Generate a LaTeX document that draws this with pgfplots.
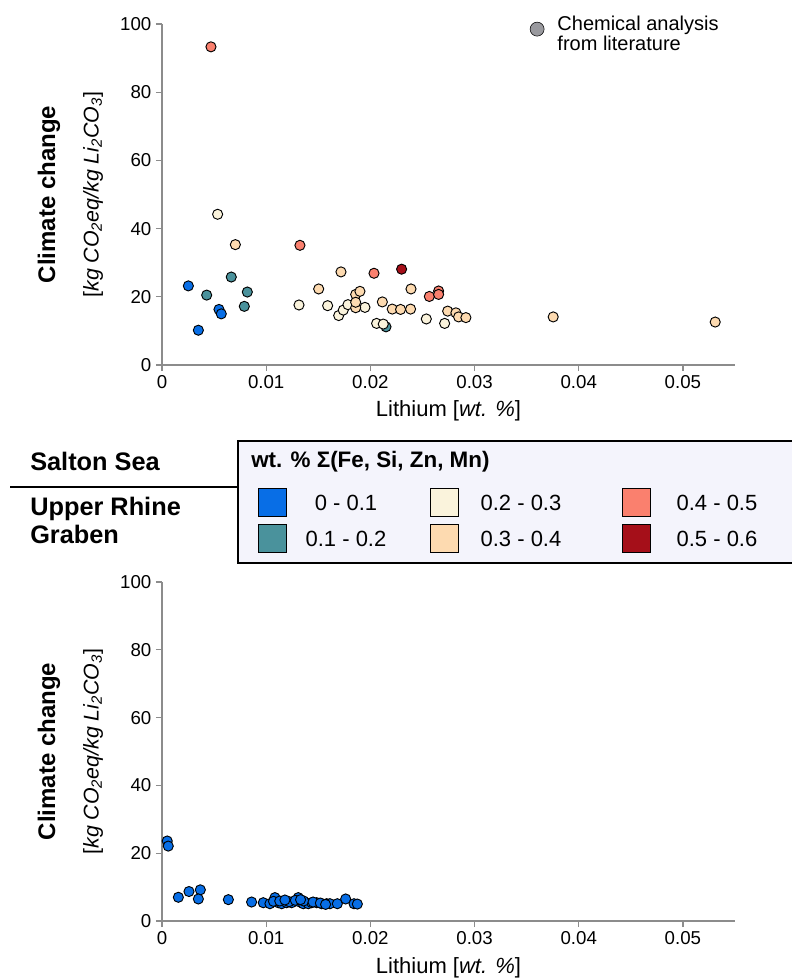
\documentclass[border=0pt]{standalone}
\usepackage{fontspec}
\setmainfont{Liberation Sans}
\usepackage{pgfplots}
\pgfplotsset{compat=1.18}
\definecolor{cA}{RGB}{8,110,230}
\definecolor{cB}{RGB}{74,146,156}
\definecolor{cC}{RGB}{250,243,220}
\definecolor{cD}{RGB}{253,218,176}
\definecolor{cE}{RGB}{250,128,110}
\definecolor{cF}{RGB}{165,15,25}
\definecolor{legbg}{RGB}{244,244,252}
\definecolor{axgray}{RGB}{140,140,140}
\definecolor{dotgray}{RGB}{153,153,158}
\pgfplotsset{
  pt/.style={only marks, mark=*, mark size=3.8pt, draw=black, fill=#1, line width=0.7pt},
  myax/.style={scale only axis, width=429.75pt,
    xmin=0, xmax=0.055, ymin=0, ymax=100,
    axis x line=bottom, axis y line=left,
    axis line style={-, draw=axgray, line width=1pt},
    tick align=outside, major tick length=4.5pt,
    tick style={draw=axgray, line width=1pt},
    xtick={0,0.01,0.02,0.03,0.04,0.05}, ytick={0,20,40,60,80,100},
    scaled x ticks=false,
    xticklabel style={/pgf/number format/fixed, /pgf/number format/precision=2},
    tick label style={font=\fontsize{14}{16}\selectfont},
    /pgf/number format/assume math mode=true,
    clip=false},
}
\newcommand\ylab{%
  \node[xshift=-84.75pt, rotate=90, font=\bfseries\fontsize{18}{20}\selectfont] at (rel axis cs:0,0.5) {Climate change};
  \node[xshift=-51.75pt, rotate=90, font=\fontsize{16}{18}\selectfont] at (rel axis cs:0,0.5) {[\textit{kg CO\textsubscript{2}eq/kg Li\textsubscript{2}CO\textsubscript{3}}]};
}
\begin{document}
\begin{tikzpicture}
\begin{axis}[myax, at={(121.5pt,-273.75pt)}, anchor=south west, height=255.75pt,
  legend style={draw=none, fill=none, at={(rel axis cs:0.642,0.985)}, anchor=west,
    font=\fontsize{15}{13.5}\selectfont, inner sep=0pt},
  legend cell align=left]
\addlegendimage{only marks, mark=*, mark size=5.25pt, draw=none, fill=dotgray}
\addlegendentry{\begin{tabular}{@{\hspace{8pt}}l@{}}Chemical analysis\\from literature\end{tabular}}
\addplot[pt=cA] coordinates {(0.00253,23.2) (0.00349,10.2) (0.00547,16.3) (0.00569,15.0)};
\addplot[pt=cB] coordinates {(0.00429,20.5) (0.00665,25.8) (0.00819,21.4) (0.0079,17.2) (0.0215,11.2)};
\addplot[pt=cC] coordinates {(0.00534,44.2) (0.01315,17.6) (0.0159,17.4) (0.01696,14.5) (0.0174,16.1) (0.01785,17.7) (0.01948,16.9) (0.0206,12.2) (0.02124,12.0) (0.02537,13.5) (0.02713,12.2)};
\addplot[pt=cD] coordinates {(0.00704,35.3) (0.01504,22.3) (0.01718,27.3) (0.01859,20.7) (0.019,21.6) (0.01859,16.8) (0.01859,18.4) (0.02115,18.5) (0.0221,16.4) (0.0229,16.3) (0.02386,16.4) (0.0239,22.3) (0.02742,15.8) (0.02821,15.3) (0.02847,14.1) (0.02917,13.9) (0.03755,14.1) (0.0531,12.6)};
\addplot[pt=cE] coordinates {(0.0047,93.3) (0.01324,35.1) (0.02035,26.9) (0.02566,20.1) (0.02655,21.7) (0.02655,20.7)};
\addplot[pt=cF] coordinates {(0.023,28.1)};
\ylab
\node[yshift=-34pt, font=\fontsize{16.5}{18}\selectfont] at (rel axis cs:0.5,0) {Lithium [\textit{wt. \%}]};
\end{axis}
\begin{axis}[myax, at={(121.5pt,-690.75pt)}, anchor=south west, height=254.25pt]
\addplot[pt=cA] coordinates {(0.0005,23.6) (0.0006,22.1) (0.00157,7.0) (0.00259,8.7) (0.00368,9.2) (0.00349,6.5) (0.00637,6.3) (0.0086,5.6) (0.00972,5.4) (0.01036,5.1) (0.01084,6.9) (0.01116,5.4) (0.01149,5.1) (0.01197,5.4) (0.01245,5.4) (0.01308,6.9) (0.01324,5.6) (0.01356,5.1) (0.01404,5.1) (0.01437,5.4) (0.01485,5.4) (0.01533,5.1) (0.01581,5.1) (0.01612,5.1) (0.01683,5.1) (0.01763,6.5) (0.01843,5.1) (0.01875,5.0) (0.0107,5.8) (0.0113,5.9) (0.0122,5.7) (0.0128,6.1) (0.0136,5.9) (0.0145,5.6) (0.0152,5.3) (0.0157,4.9) (0.0118,6.2) (0.0133,6.3)};
\ylab
\node[yshift=-35pt, font=\fontsize{16.5}{18}\selectfont] at (rel axis cs:0.5,0) {Lithium [\textit{wt. \%}]};
\end{axis}
\begin{scope}[x=0.75pt,y=-0.75pt]
  \draw[line width=2.2pt, fill=legbg] (238,441) rectangle (800,563);
  \node[anchor=base west, inner sep=0pt, font=\bfseries\fontsize{16.8}{18}\selectfont] at (251,467) {wt. \% Σ(Fe, Si, Zn, Mn)};
  \foreach \x/\y/\c in {258/488/cA, 258/524/cB, 430/488/cC, 430/524/cD, 622/488/cE, 622/524/cF}
    \draw[line width=0.75pt, fill=\c] (\x,\y) rectangle ++(28,28);
  \begin{scope}[every node/.style={anchor=base, inner sep=0pt, font=\fontsize{16.5}{18}\selectfont}]
    \node at (346,510) {0 - 0.1};
    \node at (346,546) {0.1 - 0.2};
    \node at (521,510) {0.2 - 0.3};
    \node at (521,546) {0.3 - 0.4};
    \node at (717,510) {0.4 - 0.5};
    \node at (717,546) {0.5 - 0.6};
  \end{scope}
  \begin{scope}[every node/.style={anchor=base west, inner sep=0pt, font=\bfseries\fontsize{19}{20}\selectfont}]
    \node at (30,470) {Salton Sea};
    \node at (30,515) {Upper Rhine};
    \node at (30,543) {Graben};
  \end{scope}
  \draw[line width=2pt] (10,487) -- (238,487);
\end{scope}
\pgfresetboundingbox
\useasboundingbox (0,0) rectangle (594pt,-734.25pt);
\end{tikzpicture}
\end{document}
